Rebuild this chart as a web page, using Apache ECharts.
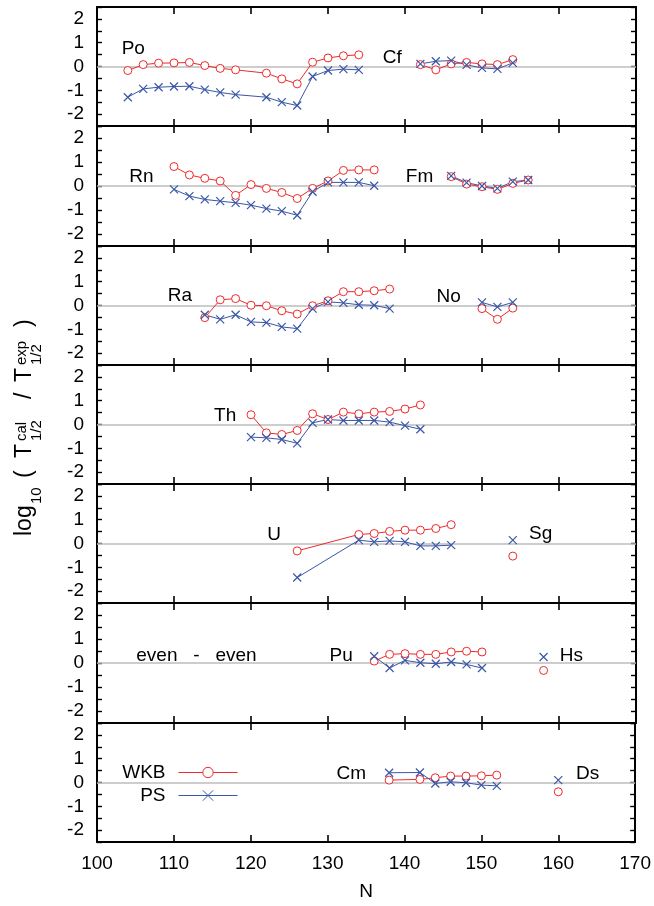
<!DOCTYPE html>
<html>
<head>
<meta charset="utf-8">
<script src="https://cdn.jsdelivr.net/npm/echarts@6/dist/echarts.min.js"></script>
<style>
  html, body { margin: 0; padding: 0; background: #fff; }
  #main { width: 654px; height: 906px; }
</style>
</head>
<body>
<div id="main"></div>
<script>
// 数据: 中子数 N 与 log10(T_cal / T_exp), WKB 与 PS 两种计算
const xPo = [104, 106, 108, 110, 112, 114, 116, 118, 122, 124, 126, 128, 130, 132, 134]
const wkbPo = [-0.17, 0.08, 0.14, 0.15, 0.17, 0.04, -0.08, -0.14, -0.28, -0.52, -0.73, 0.18, 0.36, 0.45, 0.49]
const psPo = [-1.29, -0.94, -0.87, -0.84, -0.83, -0.97, -1.09, -1.18, -1.29, -1.50, -1.64, -0.42, -0.17, -0.11, -0.14]

const xCf = [142, 144, 146, 148, 150, 152, 154]
const wkbCf = [0.08, -0.14, 0.11, 0.17, 0.11, 0.08, 0.29]
const psCf = [0.11, 0.22, 0.25, 0.07, -0.06, -0.10, 0.15]

const xRn = [110, 112, 114, 116, 118, 120, 122, 124, 126, 128, 130, 132, 134, 136]
const wkbRn = [0.81, 0.46, 0.32, 0.21, -0.39, 0.06, -0.10, -0.27, -0.52, -0.10, 0.21, 0.65, 0.67, 0.67]
const psRn = [-0.14, -0.42, -0.56, -0.63, -0.70, -0.80, -0.94, -1.05, -1.22, -0.24, 0.15, 0.15, 0.15, 0.01]

const xFm = [146, 148, 150, 152, 154, 156]
const wkbFm = [0.39, 0.08, -0.03, -0.14, 0.11, 0.25]
const psFm = [0.42, 0.14, 0.0, -0.10, 0.18, 0.25]

const xRa = [114, 116, 118, 120, 122, 124, 126, 128, 130, 132, 134, 136, 138]
const wkbRa = [-0.51, 0.24, 0.29, 0.01, -0.01, -0.22, -0.36, -0.01, 0.20, 0.58, 0.58, 0.62, 0.69]
const psRa = [-0.39, -0.58, -0.39, -0.69, -0.72, -0.90, -0.97, -0.13, 0.15, 0.11, 0.03, 0.01, -0.13]

const xNo = [150, 152, 154]
const wkbNo = [-0.13, -0.58, -0.11]
const psNo = [0.13, -0.06, 0.13]

const xTh = [120, 122, 124, 126, 128, 130, 132, 134, 136, 138, 140, 142]
const wkbTh = [0.41, -0.35, -0.42, -0.25, 0.45, 0.21, 0.52, 0.45, 0.52, 0.55, 0.65, 0.82]
const psTh = [-0.53, -0.56, -0.63, -0.79, 0.07, 0.21, 0.17, 0.17, 0.17, 0.10, -0.05, -0.20]

const xU = [126, 134, 136, 138, 140, 142, 144, 146]
const wkbU = [-0.31, 0.38, 0.42, 0.51, 0.56, 0.56, 0.63, 0.79]
const psU = [-1.43, 0.14, 0.07, 0.11, 0.07, -0.10, -0.10, -0.07]

const xSg = [154]
const wkbSg = [-0.53]
const psSg = [0.14]

const xPu = [136, 138, 140, 142, 144, 146, 148, 150]
const wkbPu = [0.08, 0.36, 0.39, 0.36, 0.36, 0.46, 0.49, 0.46]
const psPu = [0.28, -0.21, 0.11, 0.01, -0.03, 0.04, -0.06, -0.21]

const xHs = [158]
const wkbHs = [-0.31]
const psHs = [0.25]

const xCm = [138, 142, 144, 146, 148, 150, 152]
const wkbCm = [0.10, 0.13, 0.20, 0.27, 0.27, 0.28, 0.31]
const psCm = [0.41, 0.42, -0.04, 0.03, -0.01, -0.11, -0.14]

const xDs = [160]
const wkbDs = [-0.39]
const psDs = [0.10]

// 坐标轴刻度
const xTicks = [100, 110, 120, 130, 140, 150, 160, 170]
const yTicks = [-2, -1, 0, 1, 2]

// 每个小图里的元素
const panels = [
  [['Po', xPo, wkbPo, psPo], ['Cf', xCf, wkbCf, psCf]],
  [['Rn', xRn, wkbRn, psRn], ['Fm', xFm, wkbFm, psFm]],
  [['Ra', xRa, wkbRa, psRa], ['No', xNo, wkbNo, psNo]],
  [['Th', xTh, wkbTh, psTh]],
  [['U', xU, wkbU, psU], ['Sg', xSg, wkbSg, psSg]],
  [['Pu', xPu, wkbPu, psPu], ['Hs', xHs, wkbHs, psHs]],
  [['Cm', xCm, wkbCm, psCm], ['Ds', xDs, wkbDs, psDs]]
]

// 元素名标签的位置 [小图序号, N(左边), 纵坐标(中心)]
const labelPos = [
  ['Po', 0, 103.2, 0.74], ['Cf', 0, 137.1, 0.38],
  ['Rn', 1, 104.2, 0.38], ['Fm', 1, 140.1, 0.38],
  ['Ra', 2, 109.2, 0.39], ['No', 2, 144.1, 0.36],
  ['Th', 3, 115.2, 0.38],
  ['U', 4, 122.1, 0.35], ['Sg', 4, 156.1, 0.43],
  ['even   -   even', 5, 105.1, 0.32], ['Pu', 5, 130.2, 0.32], ['Hs', 5, 160.1, 0.32],
  ['Cm', 6, 131.1, 0.36], ['Ds', 6, 162.2, 0.36]
]

const RED = '#ee2a2a'
const BLUE = '#3a56a8'
const FONT = '"Liberation Sans", Arial, Helvetica, sans-serif'
const CROSS = 'path://M0,0L10,10M10,0L0,10'

const LEFT = 97
const RIGHT = 636
const TOP0 = 7
const BOTTOM = 842
const tops = []
for (let i = 0; i <= panels.length; i++) tops.push(Math.round(TOP0 + i * (BOTTOM - TOP0) / panels.length))

function px(n) { return LEFT + (n - 100) / 70 * (RIGHT - LEFT) }
function py(i, v) { return tops[i] + (2.5 - v) / 5 * (tops[i + 1] - tops[i]) }

function xAxis(gi, pos, last) {
  return {
    gridIndex: gi, type: 'value', position: pos,
    min: xTicks[0], max: xTicks[xTicks.length - 1], interval: xTicks[1] - xTicks[0],
    axisLine: { show: true, onZero: false, lineStyle: { color: '#000', width: 2 } },
    axisTick: { show: true, inside: true, length: 7, lineStyle: { color: '#000', width: 1.6 } },
    axisLabel: { show: last, margin: 12, fontSize: 19, fontFamily: FONT, color: '#000' },
    splitLine: { show: false },
    name: last ? 'N' : '', nameLocation: 'middle', nameGap: 40,
    nameTextStyle: { fontSize: 19, fontFamily: FONT, color: '#000' }
  }
}

function yAxis(gi, pos, showLabel) {
  return {
    gridIndex: gi, type: 'value', position: pos,
    min: -2.5, max: 2.5, interval: 0.5,
    axisLine: { show: true, onZero: false, lineStyle: { color: '#000', width: 2 } },
    axisTick: { show: true, inside: true, length: 5, lineStyle: { color: '#000', width: 1.4 } },
    axisLabel: {
      show: showLabel, margin: 13, fontSize: 19, fontFamily: FONT, color: '#000',
      formatter: v => (yTicks.indexOf(v) >= 0 ? String(v) : '')
    },
    splitLine: { show: false }
  }
}

function lineSeries(name, xs, ys, ai, wkb) {
  const c = wkb ? RED : BLUE
  return {
    name: name, type: 'line', xAxisIndex: ai, yAxisIndex: ai,
    data: xs.map((n, k) => [n, ys[k]]),
    symbol: wkb ? 'circle' : CROSS,
    symbolSize: 8,
    showAllSymbol: true,
    itemStyle: wkb ? { color: '#fff', borderColor: c, borderWidth: 1 } : { color: c, borderColor: c, borderWidth: 1.2 },
    lineStyle: { color: c, width: 1 },
    emphasis: { disabled: true },
    animation: false
  }
}

const grids = []
const xAxes = []
const yAxes = []
const series = []
panels.forEach((els, i) => {
  const last = i === panels.length - 1
  grids.push({ left: LEFT, width: RIGHT - LEFT, top: tops[i], height: tops[i + 1] - tops[i] })
  xAxes.push(xAxis(i, 'bottom', last), xAxis(i, 'top', false))
  yAxes.push(yAxis(i, 'left', true), yAxis(i, 'right', false))
  const ai = i * 2
  els.forEach(([el, xs, wkb, ps], k) => {
    const s = lineSeries('WKB', xs, wkb, ai, true)
    if (k === 0) {
      // 零线
      s.markLine = {
        silent: true, z: 1, symbol: ['none', 'none'], label: { show: false },
        lineStyle: { color: '#bdbdbd', width: 1.5, type: 'solid' },
        data: [{ yAxis: 0 }], animation: false
      }
    }
    series.push(s)
    series.push(lineSeries('PS', xs, ps, ai, false))
  })
})

// 元素名
const graphics = labelPos.map(([t, i, n, v]) => ({
  type: 'text', x: px(n), y: py(i, v), silent: true,
  style: { text: t, font: '19px ' + FONT, fill: '#000', verticalAlign: 'middle', align: 'left' }
}))

// 纵轴标题 log10 ( T1/2^cal / T1/2^exp ), 旋转90度
const titleParts = [
  ['log', -6, 23, 0], ['10', 26, 15, 9], ['(', 52, 23, 0], ['T', 72, 23, 0],
  ['cal', 89, 15, -6], ['1/2', 89, 15, 9], ['/', 131, 23, 0], ['T', 148, 23, 0],
  ['exp', 165, 15, -6], ['1/2', 165, 15, 9], [')', 203, 23, 0]
]
graphics.push({
  type: 'group', x: 33, y: 530, rotation: Math.PI / 2, silent: true,
  children: titleParts.map(([t, lx, size, shift]) => ({
    type: 'text', x: lx, y: shift - 0.35 * size,
    style: { text: t, font: size + 'px ' + FONT, fill: '#000', verticalAlign: 'middle', align: 'left' }
  }))
})

const myChart = echarts.init(document.getElementById('main'), null, { renderer: 'canvas' })
myChart.setOption({
  animation: false,
  backgroundColor: '#fff',
  grid: grids,
  xAxis: xAxes,
  yAxis: yAxes,
  legend: {
    data: ['WKB', 'PS'], orient: 'vertical', align: 'right',
    right: 654 - 243, top: 758, itemWidth: 59, itemHeight: 13, itemGap: 4,
    selectedMode: false,
    textStyle: { fontSize: 19, fontFamily: FONT, color: '#000', padding: [0, 8, 0, 0] },
    itemStyle: { borderWidth: 1 },
    lineStyle: { width: 1 }
  },
  graphic: graphics,
  series: series
})
</script>
</body>
</html>
